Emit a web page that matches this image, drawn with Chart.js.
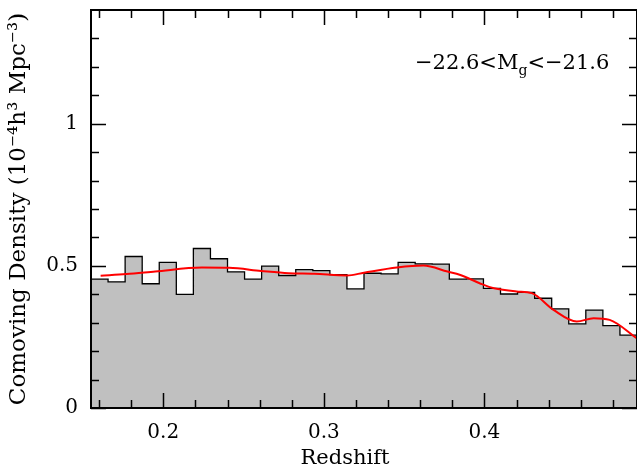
<!DOCTYPE html>
<html>
<head>
<meta charset="utf-8">
<script src="https://cdn.jsdelivr.net/npm/chart.js@4/dist/chart.umd.min.js"></script>
<style>
html, body { margin: 0; padding: 0; background: #fff; }
#wrap { width: 637px; height: 475px; }
</style>
</head>
<body>
<div id="wrap"><canvas id="zChart"></canvas></div>
<script>
// histogram bins (redshift), density in 1e-4 h^3 Mpc^-3
const binStart = 0.155;
const binWidth = 0.010625;
const densityBins = [
    0.453, 0.444, 0.533, 0.437, 0.512, 0.400, 0.561, 0.525,
    0.479, 0.453, 0.499, 0.466, 0.487, 0.483, 0.469, 0.419,
    0.474, 0.472, 0.512, 0.507, 0.506, 0.453, 0.454, 0.421,
    0.401, 0.407, 0.386, 0.349, 0.296, 0.344, 0.290, 0.256
];

// smooth fit (red)
const fitZ = [
    0.161, 0.177, 0.195, 0.224, 0.241, 0.261, 0.278, 0.294,
    0.3145, 0.325, 0.3455, 0.362, 0.377, 0.385, 0.397, 0.406,
    0.420, 0.4295, 0.443, 0.4575, 0.468, 0.478, 0.495
];
const fitDensity = [
    0.465, 0.471, 0.480, 0.494, 0.493, 0.482, 0.474, 0.472,
    0.466, 0.476, 0.494, 0.501, 0.480, 0.468, 0.439, 0.421,
    0.410, 0.404, 0.345, 0.304, 0.316, 0.310, 0.245
];

const xLabelTicks = [0.2, 0.3, 0.4];
const xMinorTicks = [0.16, 0.18, 0.22, 0.24, 0.26, 0.28, 0.32, 0.34, 0.36, 0.38, 0.42, 0.44, 0.46, 0.48];
const yLabelTicks = [0, 0.5, 1];
const yMinorTicks = [0.1, 0.2, 0.3, 0.4, 0.6, 0.7, 0.8, 0.9, 1.1, 1.2, 1.3];

const FONT = '"DejaVu Serif", serif';

// step outline: one point per left edge plus the last right edge
const histPoints = densityBins.map((v, i) => ({ x: binStart + i * binWidth, y: v }));
histPoints.push({ x: binStart + densityBins.length * binWidth, y: densityBins[densityBins.length - 1] });

const fitPoints = fitZ.map((z, i) => ({ x: z, y: fitDensity[i] }));

const frame = {
    id: 'frame',
    afterDraw(chart) {
        const { ctx, chartArea: a, scales: { x, y } } = chart;
        ctx.save();
        ctx.strokeStyle = '#000';
        ctx.lineWidth = 2;
        ctx.strokeRect(a.left, a.top, a.right - a.left, a.bottom - a.top);

        ctx.lineWidth = 1.5;
        const xTicks = (vals, len) => vals.forEach(v => {
            const px = Math.round(x.getPixelForValue(v)) + 0.5;
            ctx.beginPath();
            ctx.moveTo(px, a.bottom); ctx.lineTo(px, a.bottom - len);
            ctx.moveTo(px, a.top); ctx.lineTo(px, a.top + len);
            ctx.stroke();
        });
        const yTicks = (vals, len) => vals.forEach(v => {
            const py = Math.round(y.getPixelForValue(v)) + 0.5;
            ctx.beginPath();
            ctx.moveTo(a.left, py); ctx.lineTo(a.left + len, py);
            ctx.moveTo(a.right, py); ctx.lineTo(a.right - len, py);
            ctx.stroke();
        });
        xTicks(xLabelTicks, 15);
        xTicks(xMinorTicks, 8);
        yTicks(yLabelTicks, 15);
        yTicks(yMinorTicks, 8);

        // x axis title
        ctx.fillStyle = '#000';
        ctx.font = '21px ' + FONT;
        ctx.textAlign = 'center';
        ctx.textBaseline = 'alphabetic';
        ctx.fillText('Redshift', 345, 464);

        // magnitude range label
        ctx.textAlign = 'left';
        let tx = 415;
        const base = 69;
        ctx.font = '21px ' + FONT;
        ctx.fillText('\u221222.6<M', tx, base);
        tx += ctx.measureText('\u221222.6<M').width;
        ctx.font = '14px ' + FONT;
        ctx.fillText('g', tx, base + 6);
        tx += ctx.measureText('g').width;
        ctx.font = '21px ' + FONT;
        ctx.fillText('<\u221221.6', tx, base);
        ctx.restore();
    }
};

new Chart(document.getElementById('zChart'), {
    type: 'line',
    data: {
        datasets: [
            {
                label: 'fit',
                data: fitPoints,
                borderColor: '#ff0000',
                borderWidth: 2,
                pointRadius: 0,
                fill: false,
                cubicInterpolationMode: 'monotone'
            },
            {
                label: 'density',
                data: histPoints,
                stepped: 'before',
                borderColor: '#000000',
                borderWidth: 1.3,
                backgroundColor: '#c0c0c0',
                fill: 'origin',
                pointRadius: 0
            }
        ]
    },
    options: {
        responsive: true,
        maintainAspectRatio: false,
        animation: false,
        layout: { padding: { top: 10, right: 0, left: 0, bottom: 0 } },
        plugins: {
            legend: { display: false },
            tooltip: { enabled: false }
        },
        scales: {
            x: {
                type: 'linear',
                min: binStart,
                max: binStart + densityBins.length * binWidth,
                grid: { display: false },
                border: { display: false },
                afterBuildTicks: s => { s.ticks = xLabelTicks.map(v => ({ value: v })); },
                afterFit: s => { s.height = 67; s.paddingLeft = 0; s.paddingRight = 0; },
                ticks: {
                    color: '#000',
                    padding: 5,
                    maxRotation: 0,
                    font: { family: FONT, size: 20 },
                    callback: v => v.toFixed(1)
                }
            },
            y: {
                min: 0,
                max: 1.4,
                grid: { display: false },
                border: { display: false },
                afterBuildTicks: s => { s.ticks = yLabelTicks.map(v => ({ value: v })); },
                afterFit: s => { s.width = 91; s.paddingTop = 0; s.paddingBottom = 0; },
                ticks: {
                    color: '#000',
                    padding: 5,
                    font: { family: FONT, size: 20 },
                    callback: v => String(v)
                },
                title: {
                    display: true,
                    text: 'Comoving Density (10\u207B\u2074h\u00B3 Mpc\u207B\u00B3)',
                    color: '#000',
                    font: { family: FONT, size: 23 },
                    padding: { top: 5, bottom: 0 }
                }
            }
        }
    },
    plugins: [frame]
});
</script>
</body>
</html>
